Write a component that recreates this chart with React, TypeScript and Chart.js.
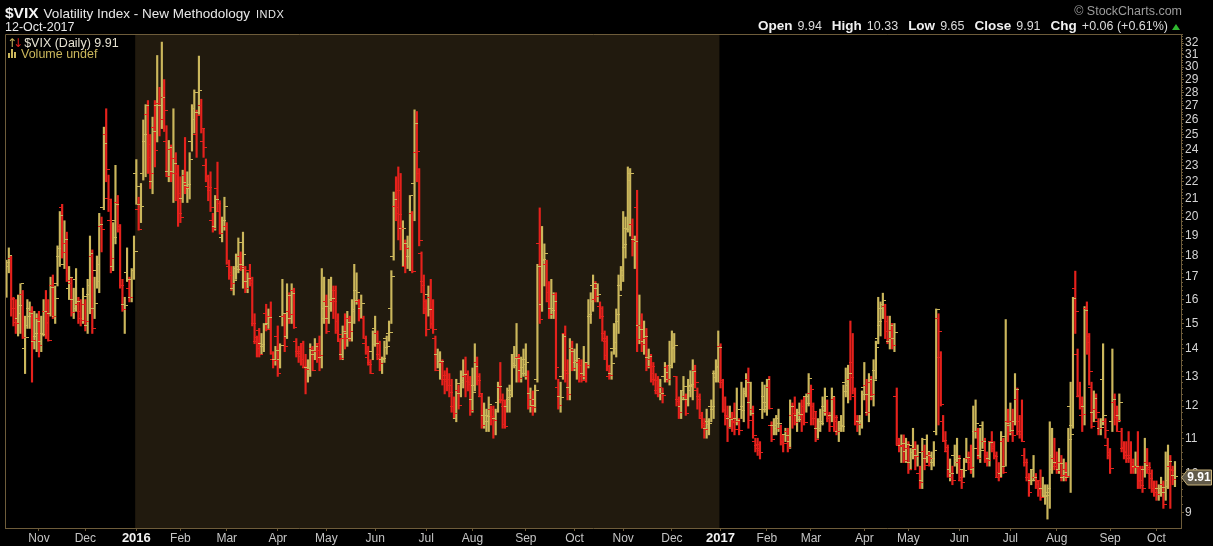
import React, { useEffect, useRef } from 'react';
import { Chart, registerables } from 'chart.js';

Chart.register(...registerables);

type OHLC = [number, number, number, number]; // open, high, low, close

// Oct 13 – Dec 31, 2015
const ohlc2015: OHLC[] = [
  [16.6,17.8,16.1,17.67],[17.5,18.4,17.2,18.03],[17.9,18.0,15.3,16.05],[16.0,16.1,14.9,15.05],[15.6,16.0,14.6,14.98],
  [15.2,16.2,14.5,15.75],[15.4,16.7,14.6,16.70],[16.2,16.4,14.4,14.45],[14.0,15.3,13.1,14.46],[14.9,16.0,14.8,15.29],
  [15.6,15.9,14.8,15.43],[15.5,15.7,12.8,14.33],[14.3,15.5,14.0,14.61],[14.5,15.4,13.9,15.07],
  [15.2,15.5,13.7,14.15],[14.3,15.3,13.9,14.54],[14.6,16.0,14.5,15.51],[15.5,16.4,14.4,15.05],[15.0,16.0,14.3,14.33],
  [15.4,17.0,15.3,16.52],[16.6,17.1,15.2,15.29],[15.3,16.6,15.0,16.06],[16.7,18.5,16.6,18.37],[18.0,20.3,17.5,20.08],
  [20.5,20.7,17.9,18.16],[17.6,19.8,17.4,18.84],[18.6,19.2,16.8,16.85],[16.5,17.5,16.0,16.99],[16.7,17.0,15.3,15.47],
  [16.0,16.5,15.2,15.62],[16.9,17.4,15.5,15.93],[15.8,16.1,15.0,15.19],[15.5,16.0,14.9,15.12],[15.2,16.5,15.0,16.13],
  [15.8,16.0,14.7,15.07],[14.9,16.9,14.6,16.63],[16.2,19.0,15.4,18.11],[18.0,18.3,14.6,14.81],[15.6,17.0,15.2,15.84],
  [17.3,18.0,16.5,17.60],[16.8,20.2,16.3,19.61],[19.5,20.0,18.2,19.34],[20.5,25.5,20.4,24.39],[25.0,26.8,22.0,22.73],
  [21.0,22.4,20.3,20.95],[19.8,21.0,17.2,17.86],[17.5,19.7,17.3,18.94],[19.8,23.0,18.6,20.70],[20.8,21.2,19.2,19.34],
  [19.5,19.6,16.5,16.60],[16.6,16.9,15.5,15.57],[15.8,16.1,14.6,15.74],[17.2,18.4,16.8,16.91],[16.5,17.0,15.9,16.08],
  [16.1,17.4,15.9,17.29],[17.3,19.0,16.9,18.21],
];

// Jan – Dec 2016
const ohlc2016: OHLC[] = [
  // Jan
  [22.5,23.36,20.7,20.70],[20.4,21.1,19.3,19.34],[21.7,21.9,19.7,20.59],[22.5,26.0,22.1,24.99],[24.5,27.1,22.3,27.01],
  [26.4,27.4,22.5,24.30],[23.5,25.0,21.6,22.47],[22.0,26.2,21.3,25.22],[25.5,27.4,22.9,23.95],[27.0,30.95,24.5,27.02],
  [27.2,28.4,24.9,26.05],[27.0,32.09,25.4,27.59],[27.6,29.0,25.2,26.69],[24.5,25.6,22.3,22.34],[22.6,24.6,22.0,24.15],
  [24.0,24.3,22.0,22.50],[22.6,26.8,20.8,23.11],[23.4,23.8,20.9,22.42],[22.5,23.0,19.5,20.20],
  // Feb
  [21.3,22.3,19.7,19.98],[21.0,22.7,20.8,21.98],[22.4,24.8,21.3,21.65],[21.8,22.6,20.8,21.84],[21.6,23.8,21.0,23.38],
  [24.5,27.1,23.9,26.00],[26.8,28.2,25.1,26.54],[25.0,26.7,23.5,26.29],[28.0,30.90,26.4,28.14],[27.0,27.5,25.1,25.40],
  [24.5,25.4,23.5,24.11],[23.0,23.4,22.0,22.31],[21.7,22.4,20.9,21.64],[21.5,22.6,20.3,20.53],[19.8,20.2,19.2,19.38],
  [19.5,21.2,19.3,20.98],[21.6,23.2,20.3,20.72],[20.3,20.9,19.1,19.11],[18.9,20.0,18.7,19.81],[19.8,21.1,19.3,20.55],
  // Mar
  [19.5,19.7,17.6,17.70],[17.5,17.8,16.9,17.09],[17.2,17.5,16.4,16.70],[16.5,17.5,16.2,16.86],[17.4,18.1,16.9,17.35],
  [17.5,18.9,17.2,18.67],[18.0,18.2,17.3,17.50],[17.6,19.2,16.5,18.05],[17.4,17.5,16.3,16.50],[16.8,17.2,16.3,16.92],
  [17.3,17.6,16.6,16.84],[16.7,17.0,14.9,14.99],[15.0,15.4,14.2,14.44],[14.3,14.5,13.7,14.02],[14.7,14.8,13.7,13.79],
  [14.2,14.6,13.8,14.17],[14.1,15.0,13.9,14.94],[15.4,15.8,14.7,14.74],[15.0,15.6,14.8,15.24],[15.3,15.9,13.8,13.82],
  [13.6,13.9,13.3,13.56],[13.6,14.1,13.4,13.95],
  // Apr
  [14.5,14.9,13.0,13.10],[13.6,14.2,13.3,14.12],[15.3,16.9,14.9,15.42],[15.3,15.4,13.9,14.09],[14.5,16.7,14.4,16.16],
  [15.5,16.3,15.0,15.36],[15.2,16.7,15.0,16.26],[16.4,16.5,14.8,14.85],[14.3,14.4,13.7,13.84],[13.9,14.1,13.5,13.72],
  [13.9,14.2,13.4,13.62],[14.2,14.3,13.3,13.35],[13.3,13.8,12.4,13.24],[13.3,13.6,12.8,13.28],[13.1,14.2,13.0,13.95],
  [14.0,14.1,13.2,13.22],[13.8,14.4,13.6,14.08],[13.9,14.2,13.5,13.96],[14.2,14.5,13.2,13.77],[13.7,17.4,13.3,15.22],
  [15.6,17.0,15.0,15.70],
  // May
  [15.9,16.2,14.6,14.68],[15.2,16.9,15.0,15.60],[16.0,17.0,15.5,16.05],[15.9,16.6,15.2,15.91],[16.4,16.6,14.6,14.72],
  [15.1,15.4,14.3,14.57],[14.3,14.4,13.6,13.63],[13.8,14.9,13.6,14.69],[14.4,15.4,14.0,14.41],[14.6,15.5,14.1,15.04],
  [15.2,15.3,14.3,14.68],[14.4,16.0,14.3,15.57],[15.5,17.6,15.0,15.95],[16.4,17.2,15.8,16.33],[15.9,16.0,15.1,15.20],
  [15.6,16.2,15.2,15.82],[15.2,15.3,14.4,14.42],[14.2,14.5,13.8,13.90],[13.7,14.1,13.4,13.43],[13.5,13.6,13.1,13.12],
  [13.9,14.7,13.6,14.19],
  // Jun
  [14.8,15.3,14.1,14.20],[14.6,14.7,13.6,13.63],[13.8,14.3,13.2,13.47],[13.6,13.7,13.1,13.65],[13.6,14.3,13.5,14.05],
  [14.4,14.5,13.8,14.08],[14.6,15.1,14.3,14.64],[15.6,17.3,15.0,17.03],[18.0,21.4,17.8,20.97],[20.6,22.3,19.8,20.50],
  [20.2,22.9,18.8,20.14],[21.5,22.5,18.3,19.37],[19.4,19.8,17.5,19.41],[17.5,18.8,17.2,18.37],[18.6,19.0,17.4,18.48],
  [18.0,21.2,17.3,21.17],[20.2,20.3,17.2,17.25],[21.9,26.72,19.8,25.76],[23.8,26.6,22.0,23.85],[22.5,22.8,18.5,18.75],
  [18.1,18.2,16.3,16.64],[16.8,17.1,15.4,15.63],
  // Jul
  [15.9,16.0,14.5,14.77],[16.2,16.6,15.3,15.58],[16.1,16.9,14.8,14.96],[15.0,16.0,14.6,14.76],[14.4,14.5,13.2,13.20],
  [13.8,14.0,13.3,13.54],[13.2,13.9,12.9,13.55],[13.5,13.6,12.7,13.04],[12.9,13.2,12.4,12.82],[12.9,13.3,12.5,12.67],
  [12.9,13.1,12.3,12.44],[12.7,12.9,11.8,11.97],[12.0,12.3,11.6,11.77],[11.6,12.9,11.5,12.74],[12.5,12.7,11.9,12.02],
  [12.4,13.2,12.3,12.87],[12.8,13.6,12.6,13.05],[13.0,13.7,12.3,12.83],[13.1,13.2,12.5,12.72],[12.8,13.0,11.7,11.87],
  // Aug
  [12.2,13.3,11.8,12.44],[12.7,14.2,12.5,13.37],[13.5,13.7,12.7,12.86],[13.0,13.1,12.3,12.42],[12.3,12.4,11.3,11.39],
  [11.7,12.1,11.3,11.50],[11.7,11.9,11.2,11.66],[11.7,12.3,11.2,12.05],[11.9,12.0,11.4,11.68],[11.9,12.0,11.0,11.55],
  [11.6,11.9,11.1,11.81],[12.1,12.8,11.8,12.64],[12.6,13.5,12.1,12.19],[12.2,12.4,11.3,11.43],[12.0,12.2,11.3,11.34],
  [12.0,12.6,11.8,12.27],[12.2,12.7,11.8,12.38],[12.5,13.8,12.3,13.45],[13.8,14.1,13.3,13.63],[13.4,15.0,12.8,13.65],
  [13.7,13.8,12.8,12.94],[13.2,13.7,12.8,13.12],[13.3,14.0,13.0,13.42],
  // Sep
  [13.6,14.2,12.9,13.48],[13.0,13.2,11.9,11.98],[12.4,12.6,11.8,12.02],[12.2,12.5,11.7,11.94],[12.2,12.7,11.8,12.51],
  [12.9,17.6,12.8,17.50],[18.6,20.5,15.0,15.16],[15.8,19.5,15.5,17.85],[17.8,18.6,16.6,18.14],[17.6,17.8,15.9,16.30],
  [15.9,16.8,15.2,15.37],[15.6,16.9,15.2,15.53],[15.6,16.3,15.2,15.92],[16.2,16.3,12.9,13.30],[12.6,12.9,11.9,12.02],
  [12.3,12.8,11.8,12.29],[13.0,14.6,12.9,14.50],[14.6,14.9,12.8,13.10],[13.2,13.6,12.2,12.39],[12.6,14.4,12.2,14.02],
  [14.0,14.3,13.2,13.29],
  // Oct
  [13.9,14.0,13.2,13.57],[13.5,14.2,12.9,13.63],[13.5,13.6,12.8,12.99],[13.4,13.6,12.8,12.84],[13.1,14.1,12.9,13.48],
  [13.0,13.5,12.8,13.38],[13.5,16.0,13.3,15.36],[15.3,16.3,15.0,15.91],[16.6,17.1,15.5,16.69],[16.0,16.8,15.9,16.12],
  [16.5,16.7,15.9,16.21],[15.7,15.9,15.2,15.28],[15.6,15.7,14.3,14.41],[14.6,14.7,13.6,13.75],[14.3,14.5,13.2,13.34],
  [13.0,13.4,12.9,13.02],[13.1,13.9,12.9,13.46],[14.0,15.0,13.8,14.24],[14.0,15.6,13.7,15.36],[15.1,17.1,14.6,16.19],
  [16.6,17.5,16.4,17.06],
  // Nov
  [17.3,20.3,16.8,18.56],[18.4,20.0,17.9,19.32],[19.4,22.9,19.2,22.08],[22.5,22.8,19.0,22.51],[19.6,19.9,18.0,18.71],
  [18.8,19.0,17.4,18.74],[20.5,21.5,13.9,14.38],[14.9,16.2,14.2,14.74],[14.9,15.4,13.9,14.17],[14.3,15.1,13.8,14.48],
  [14.4,14.8,13.2,13.37],[13.7,14.0,13.3,13.72],[13.6,13.8,12.8,13.35],[13.1,13.5,12.7,12.85],[12.9,13.1,12.4,12.42],
  [12.5,13.0,12.3,12.41],[12.4,12.9,12.2,12.43],[12.6,12.6,12.1,12.34],[13.0,13.5,12.8,13.15],[13.3,13.4,12.8,12.90],
  [12.9,14.3,12.7,13.33],
  // Dec
  [13.4,14.7,13.3,14.07],[14.0,14.6,13.5,14.12],[13.0,13.0,12.0,12.14],[12.2,12.3,11.6,11.79],[12.0,12.5,11.6,12.22],
  [12.5,13.0,12.2,12.64],[12.3,12.4,11.7,11.75],[12.2,12.9,12.0,12.64],[12.5,13.2,12.3,12.72],[12.7,13.6,12.2,13.19],
  [13.2,13.4,12.6,12.79],[12.5,12.6,11.9,12.20],[12.3,12.4,11.6,11.71],[11.6,11.8,11.3,11.45],[11.4,11.6,11.0,11.27],
  [11.3,11.9,11.0,11.43],[11.5,11.6,11.1,11.44],[12.0,12.2,11.5,11.99],[11.9,13.2,11.6,12.95],[13.1,13.6,12.8,13.37],
  [13.3,14.7,12.8,14.04],
];

// Jan 3 – Oct 12, 2017
const ohlc2017: OHLC[] = [
  // Jan
  [14.1,14.2,12.6,12.85],[12.8,12.9,11.8,11.85],[11.9,12.3,11.4,11.67],[11.7,12.0,10.9,11.32],[11.6,12.0,11.3,11.56],
  [11.6,11.8,11.2,11.49],[11.5,12.1,11.1,11.26],[11.6,12.6,11.4,11.54],[11.5,11.6,11.1,11.23],[11.9,12.8,11.6,11.87],
  [12.0,12.6,11.5,12.48],[12.4,13.1,12.3,12.78],[12.9,13.3,11.3,11.54],[12.1,12.8,11.7,11.77],[11.9,12.0,11.0,11.07],
  [10.9,11.0,10.6,10.81],[10.8,11.0,10.5,10.63],[10.7,10.9,10.4,10.58],[11.9,12.8,11.6,11.88],[12.3,12.7,11.8,11.99],
  // Feb
  [12.1,12.9,11.7,12.88],[12.6,13.0,11.9,11.93],[11.4,11.5,10.9,10.97],[11.4,11.6,11.1,11.37],[11.3,11.7,11.1,11.45],
  [11.6,11.9,11.2,11.45],[11.3,11.4,10.8,10.88],[10.9,11.1,10.6,10.85],[11.1,11.3,10.9,11.07],[11.2,11.3,10.6,10.74],
  [10.9,12.2,10.7,11.97],[11.7,12.1,11.3,11.76],[12.0,12.3,11.4,11.49],[11.7,11.9,11.2,11.57],[11.8,12.1,11.5,11.74],
  [11.7,12.2,11.2,11.71],[12.0,12.3,11.4,11.47],[12.3,12.4,11.8,12.09],[12.3,13.1,12.0,12.92],
  // Mar
  [12.4,12.7,11.4,12.54],[12.0,12.1,11.4,11.81],[11.6,11.8,10.9,10.96],[11.3,11.6,11.0,11.24],[11.3,11.9,11.2,11.45],
  [11.5,12.3,11.4,11.86],[12.0,12.6,11.7,12.30],[11.8,12.2,11.5,11.66],[11.6,11.8,11.2,11.35],[11.7,12.6,11.5,12.30],
  [12.2,12.3,11.2,11.63],[11.5,11.7,11.1,11.21],[11.2,11.5,10.9,11.28],[11.5,11.7,11.2,11.34],[11.4,12.7,11.2,12.47],
  [12.8,13.3,12.3,12.81],[12.7,13.4,12.1,13.12],[12.9,15.1,12.2,12.96],[13.5,14.6,12.4,12.50],[12.3,12.6,11.4,11.53],
  [11.5,11.7,11.2,11.42],[11.5,11.7,11.1,11.54],[11.5,12.5,11.3,12.37],
  // Apr
  [12.6,13.5,12.2,12.38],[12.7,12.9,11.7,11.79],[11.8,13.1,11.5,12.89],[12.8,13.0,12.2,12.39],[12.3,13.6,12.0,12.87],
  [13.2,14.3,12.9,14.05],[14.4,16.1,14.2,15.07],[14.9,15.9,14.5,15.77],[15.6,16.28,15.2,15.96],[15.7,15.8,14.4,14.66],
  [15.1,15.3,14.2,14.42],[14.3,15.3,14.0,14.93],[14.7,15.0,14.0,14.15],[14.4,15.0,13.9,14.63],[12.3,12.6,10.8,10.84],
  [10.8,11.0,10.6,10.76],[10.8,11.1,10.3,10.85],[10.8,11.1,10.3,10.36],[10.6,11.0,10.3,10.82],
  // May
  [10.7,10.9,10.0,10.11],[10.3,10.7,10.1,10.59],[10.8,11.3,10.4,10.68],[10.7,10.9,10.1,10.46],[10.5,10.8,10.2,10.57],
  [10.0,10.2,9.6,9.77],[9.8,11.0,9.6,10.96],[10.6,10.8,10.1,10.21],[10.4,11.1,10.3,10.60],[10.5,10.6,10.2,10.40],
  [10.5,10.6,10.1,10.42],[10.3,10.9,10.2,10.65],[11.2,15.6,11.1,15.59],[15.2,15.4,11.4,14.66],[13.7,13.9,12.0,12.04],
  [11.5,11.7,10.9,10.93],[10.9,11.2,10.6,10.72],[10.6,10.8,9.9,9.99],[10.1,10.4,9.8,9.99],[9.9,10.2,9.7,9.81],
  [10.5,10.8,10.2,10.38],[10.3,11.0,10.0,10.41],
  // Jun
  [10.3,10.5,9.8,9.89],[9.8,10.1,9.6,9.75],[10.1,10.4,9.9,10.07],[10.4,11.0,10.3,10.45],[10.4,10.6,10.1,10.39],
  [10.3,10.8,10.0,10.16],[10.1,12.0,9.9,10.70],[11.2,12.2,11.0,11.46],[11.2,11.3,10.4,10.42],[10.5,11.3,10.3,10.64],
  [11.4,11.5,10.7,10.90],[10.9,11.0,10.3,10.38],[10.5,10.6,10.2,10.37],[10.4,10.9,10.2,10.86],[10.9,11.2,10.6,10.75],
  [10.7,10.9,10.4,10.48],[10.5,10.6,9.9,10.02],[9.9,10.3,9.8,9.90],[10.0,11.2,9.9,11.06],[10.9,11.0,10.0,10.03],
  [10.2,15.16,10.2,11.44],[11.5,11.9,10.9,11.18],
  // Jul
  [11.4,12.1,11.1,11.22],[11.5,11.9,10.9,11.07],[11.5,13.1,11.4,12.54],[12.2,12.6,11.1,11.19],[11.5,11.7,11.0,11.11],
  [11.2,12.2,10.9,10.89],[10.5,10.7,10.2,10.30],[10.3,10.4,9.8,9.90],[9.9,10.0,9.4,9.51],[9.8,10.1,9.7,9.82],
  [10.1,10.5,9.8,9.89],[9.9,10.0,9.6,9.79],[9.7,9.8,9.4,9.58],[9.8,10.1,9.3,9.36],[9.6,9.9,9.4,9.43],
  [9.4,9.7,9.2,9.43],[9.4,9.7,8.84,9.60],[9.5,11.5,9.1,10.11],[10.5,11.3,10.0,10.29],[10.4,11.0,10.1,10.26],
  // Aug
  [10.2,10.6,10.0,10.09],[10.1,10.7,10.0,10.28],[10.3,10.5,9.8,9.95],[9.9,10.4,9.8,10.03],[10.1,10.3,9.8,9.93],
  [9.9,11.3,9.9,10.96],[12.0,12.8,9.5,11.11],[11.4,16.1,11.3,16.04],[16.5,17.28,14.6,15.51],[13.8,14.0,12.3,12.33],
  [12.3,12.8,11.9,12.04],[11.7,12.3,11.2,11.74],[12.0,15.7,11.4,15.55],[15.6,15.9,13.8,14.26],[14.5,14.6,12.7,13.19],
  [12.6,12.8,11.3,11.35],[11.8,12.5,11.5,12.25],[11.9,12.4,11.6,11.78],[11.5,11.6,11.1,11.28],[11.3,11.6,11.1,11.32],
  [12.9,14.2,11.4,11.70],[11.5,11.6,11.0,11.22],[10.8,11.0,10.4,10.59],
  // Sep
  [10.5,10.7,10.0,10.13],[11.5,14.0,11.2,12.23],[12.1,12.4,11.4,11.63],[11.7,12.0,11.2,11.55],[11.7,12.4,11.5,12.12],
  [11.2,11.3,10.6,10.73],[10.7,10.9,10.4,10.58],[10.6,10.9,10.3,10.50],[10.5,11.2,10.3,10.44],[10.4,10.9,10.0,10.17],
  [10.3,10.4,10.0,10.15],[10.2,10.6,10.0,10.18],[10.2,11.2,9.6,9.78],[9.8,10.2,9.6,9.67],[9.8,10.2,9.5,9.59],
  [10.1,11.0,9.9,10.21],[10.3,10.7,10.0,10.17],[10.1,10.3,9.6,9.87],[10.0,10.1,9.5,9.55],[9.6,9.8,9.4,9.51],
  // Oct
  [9.6,9.8,9.3,9.45],[9.6,9.7,9.3,9.51],[9.6,9.9,9.4,9.63],[9.7,9.8,9.1,9.19],[9.5,10.6,9.3,9.65],
  [9.8,10.8,9.6,10.33],[10.2,10.5,9.1,10.08],[10.1,10.2,9.7,9.85],[9.94,10.33,9.65,9.91],
];

// trading days per month, Oct 2015 (partial) … Oct 2017 (partial)
const monthTradingDays = [14,20,22,19,20,22,21,21,22,20,23,21,21,21,21,20,19,23,19,22,22,20,23,20,9];
const monthLabels = ['Oct','Nov','Dec','2016','Feb','Mar','Apr','May','Jun','Jul','Aug','Sep','Oct','Nov','Dec','2017','Feb','Mar','Apr','May','Jun','Jul','Aug','Sep','Oct'];
const yTickValues = [9,10,11,12,13,14,15,16,17,18,19,20,21,22,23,24,25,26,27,28,29,30,31,32];

const quoteOpen = '9.94';
const quoteHigh = '10.33';
const quoteLow = '9.65';
const quoteClose = '9.91';
const quoteChg = '+0.06 (+0.61%)';

const FONT = '"Liberation Sans", Arial, Helvetica, sans-serif';
const UP = '#cbb75c';
const DOWN = '#e6211c';
const FRAME = '#6e5c3a';
const SHADE = '#211a0e';

function makeTick(color: string, side: 'left' | 'right') {
  const c = document.createElement('canvas');
  c.width = 7;
  c.height = 1;
  const g = c.getContext('2d')!;
  g.fillStyle = color;
  g.fillRect(side === 'left' ? 0 : 4, 0, 3, 1);
  return c;
}

export default function App() {
  const ref = useRef<HTMLCanvasElement>(null);

  useEffect(() => {
    const bars = [...ohlc2015, ...ohlc2016, ...ohlc2017];
    const n = bars.length;
    const up = bars.map((b, i) => (i === 0 ? b[3] >= b[0] : b[3] >= bars[i - 1][3]));
    const colors = up.map((u) => (u ? UP : DOWN));

    const imgs = {
      ou: makeTick(UP, 'left'),
      od: makeTick(DOWN, 'left'),
      cu: makeTick(UP, 'right'),
      cd: makeTick(DOWN, 'right'),
    };

    const monthStarts: { idx: number; label: string }[] = [];
    let acc = 0;
    monthTradingDays.forEach((d, k) => {
      if (k > 0) monthStarts.push({ idx: acc, label: monthLabels[k] });
      acc += d;
    });
    const shadeFrom = ohlc2015.length - 0.5;
    const shadeTo = ohlc2015.length + ohlc2016.length - 0.5;
    const lastClose = bars[n - 1][3];

    // minor ticks on the price axis (0.2 steps between labelled values)
    const minorTicks: number[] = [];
    yTickValues.forEach((v) => {
      for (let k = 1; k < 5; k++) minorTicks.push(v + k * 0.2);
    });

    const framePlugin = {
      id: 'framePlugin',
      beforeDatasetsDraw(chart: any) {
        const { ctx, chartArea, scales } = chart;
        const x0 = scales.x.getPixelForValue(shadeFrom);
        const x1 = scales.x.getPixelForValue(shadeTo);
        ctx.save();
        ctx.fillStyle = SHADE;
        ctx.fillRect(x0, chartArea.top, x1 - x0, chartArea.bottom - chartArea.top);
        ctx.restore();
      },
      afterDraw(chart: any) {
        const { ctx, chartArea, scales } = chart;
        ctx.save();
        ctx.strokeStyle = FRAME;
        ctx.lineWidth = 1;
        ctx.beginPath();
        ctx.moveTo(chartArea.left + 0.5, chartArea.bottom);
        ctx.lineTo(chartArea.left + 0.5, chartArea.top + 0.5);
        ctx.lineTo(chartArea.right, chartArea.top + 0.5);
        ctx.stroke();
        // minor ticks
        ctx.beginPath();
        minorTicks.forEach((v) => {
          const py = scales.y.getPixelForValue(v);
          if (py < chartArea.top || py > chartArea.bottom) return;
          const yy = Math.round(py) + 0.5;
          ctx.moveTo(chartArea.right, yy);
          ctx.lineTo(chartArea.right + 2, yy);
        });
        ctx.stroke();
        // last price marker
        const y = Math.round(scales.y.getPixelForValue(lastClose));
        const xl = chartArea.right;
        const h = 15;
        ctx.fillStyle = '#615a49';
        ctx.strokeStyle = '#c9b37a';
        ctx.beginPath();
        ctx.moveTo(xl + 0.5, y + 0.5);
        ctx.lineTo(xl + 6.5, y - h / 2 + 0.5);
        ctx.lineTo(1211.5, y - h / 2 + 0.5);
        ctx.lineTo(1211.5, y + h / 2 + 0.5);
        ctx.lineTo(xl + 6.5, y + h / 2 + 0.5);
        ctx.closePath();
        ctx.fill();
        ctx.stroke();
        ctx.fillStyle = '#ffffff';
        ctx.font = `bold 12px ${FONT}`;
        ctx.textAlign = 'center';
        ctx.textBaseline = 'middle';
        ctx.fillText(lastClose.toFixed(2), (xl + 6 + 1211) / 2, y + 1);
        ctx.restore();
      },
    };

    const chart = new Chart(ref.current!, {
      type: 'bar',
      data: {
        datasets: [
          {
            type: 'bar',
            data: bars.map((b, i) => ({ x: i, y: [b[2], b[1]] })) as any,
            backgroundColor: colors,
            borderWidth: 0,
            barThickness: 1.5,
            order: 3,
          } as any,
          {
            type: 'scatter',
            data: bars.map((b, i) => ({ x: i, y: b[0] })),
            pointStyle: ((ctx: any) => (up[ctx.dataIndex] ? imgs.ou : imgs.od)) as any,
            pointRadius: 3,
            order: 2,
          } as any,
          {
            type: 'scatter',
            data: bars.map((b, i) => ({ x: i, y: b[3] })),
            pointStyle: ((ctx: any) => (up[ctx.dataIndex] ? imgs.cu : imgs.cd)) as any,
            pointRadius: 3,
            order: 1,
          } as any,
        ],
      },
      options: {
        animation: false,
        responsive: false,
        devicePixelRatio: 1,
        events: [],
        layout: { padding: { left: 5, top: 34, right: 0, bottom: 0 } },
        plugins: { legend: { display: false }, tooltip: { enabled: false }, title: { display: false } },
        scales: {
          x: {
            type: 'linear',
            min: -0.65,
            max: n - 1 + 2.6,
            offset: false,
            afterBuildTicks: (scale: any) => {
              scale.ticks = monthStarts.map((m) => ({ value: m.idx }));
            },
            afterFit: (scale: any) => {
              scale.height = 18;
            },
            grid: { display: true, drawOnChartArea: false, drawTicks: true, tickLength: 3, color: FRAME, offset: false },
            border: { display: true, color: FRAME },
            ticks: {
              autoSkip: false,
              maxRotation: 0,
              padding: 0,
              color: (ctx: any) => (/^\d{4}$/.test(monthStarts[ctx.index]?.label ?? '') ? '#f2f2f2' : '#c4c4c4'),
              font: (ctx: any) =>
                /^\d{4}$/.test(monthStarts[ctx.index]?.label ?? '')
                  ? { family: FONT, size: 13, weight: 'bold' }
                  : { family: FONT, size: 12 },
              callback: (_v: any, i: number) => monthStarts[i]?.label ?? '',
            },
          },
          y: {
            type: 'logarithmic',
            position: 'right',
            min: 8.63,
            max: 32.8,
            afterBuildTicks: (scale: any) => {
              scale.ticks = yTickValues.map((v) => ({ value: v }));
            },
            afterFit: (scale: any) => {
              scale.width = 32;
            },
            grid: { display: true, drawOnChartArea: false, drawTicks: true, tickLength: 3, color: FRAME },
            border: { display: true, color: FRAME },
            ticks: {
              autoSkip: false,
              padding: 1,
              color: '#d4d4d4',
              font: { family: FONT, size: 12 },
              callback: (v: any) => String(v),
            },
          },
        },
      } as any,
      plugins: [framePlugin],
    });

    return () => chart.destroy();
  }, []);

  const lbl: React.CSSProperties = { fontWeight: 'bold', color: '#f0f0f0', fontSize: 13.5 };
  const val: React.CSSProperties = { color: '#dcdcdc', fontSize: 12.5, marginLeft: 5, marginRight: 10 };

  return (
    <div
      style={{
        position: 'fixed',
        left: 0,
        top: 0,
        width: 1213,
        height: 546,
        background: '#000',
        overflow: 'hidden',
        fontFamily: FONT,
      }}
    >
      <canvas ref={ref} width={1213} height={546} style={{ position: 'absolute', left: 0, top: 0 }} />
      <div style={{ position: 'absolute', left: 5, top: 5, lineHeight: '15px', whiteSpace: 'nowrap', color: '#e8e8e8' }}>
        <span style={{ fontWeight: 'bold', fontSize: 15.5, color: '#f4f4f4' }}>$VIX</span>
        <span style={{ fontSize: 13.5, marginLeft: 5 }}>Volatility Index - New Methodology</span>
        <span style={{ fontSize: 11, marginLeft: 6, letterSpacing: 0.5 }}>INDX</span>
      </div>
      <div style={{ position: 'absolute', left: 5, top: 21, lineHeight: '13px', fontSize: 12.5, color: '#e8e8e8' }}>
        12-Oct-2017
      </div>
      <div style={{ position: 'absolute', right: 31, top: 5, lineHeight: '13px', fontSize: 12.5, color: '#9c9c9c' }}>
        © StockCharts.com
      </div>
      <div
        style={{
          position: 'absolute',
          right: 45,
          top: 19,
          lineHeight: '14px',
          whiteSpace: 'nowrap',
          display: 'flex',
          alignItems: 'baseline',
        }}
      >
        <span style={lbl}>Open</span>
        <span style={val}>{quoteOpen}</span>
        <span style={lbl}>High</span>
        <span style={val}>{quoteHigh}</span>
        <span style={lbl}>Low</span>
        <span style={val}>{quoteLow}</span>
        <span style={lbl}>Close</span>
        <span style={val}>{quoteClose}</span>
        <span style={lbl}>Chg</span>
        <span style={{ ...val, marginRight: 0 }}>{quoteChg}</span>
      </div>
      <div
        style={{
          position: 'absolute',
          left: 1172,
          top: 24,
          width: 0,
          height: 0,
          borderLeft: '4px solid transparent',
          borderRight: '4px solid transparent',
          borderBottom: '6px solid #2fb82f',
        }}
      />
      <div style={{ position: 'absolute', left: 7, top: 37, lineHeight: '12px', whiteSpace: 'nowrap', fontSize: 12.5 }}>
        <span style={{ color: UP, fontSize: 12, fontFamily: '"DejaVu Sans", sans-serif', letterSpacing: -4 }}>↑</span>
        <span style={{ color: DOWN, fontSize: 12, fontFamily: '"DejaVu Sans", sans-serif' }}>↓</span>
        <span style={{ color: '#e6e2d2', marginLeft: 1 }}>$VIX (Daily) 9.91</span>
      </div>
      <div style={{ position: 'absolute', left: 8, top: 48, lineHeight: '12px', whiteSpace: 'nowrap', fontSize: 12.5, color: UP }}>
        <span style={{ display: 'inline-block', width: 10, height: 9, marginRight: 3, position: 'relative', top: 0 }}>
          <span style={{ position: 'absolute', left: 0, bottom: 0, width: 2, height: 5, background: UP }} />
          <span style={{ position: 'absolute', left: 3, bottom: 0, width: 2, height: 9, background: UP }} />
          <span style={{ position: 'absolute', left: 6, bottom: 0, width: 2, height: 6, background: UP }} />
        </span>
        Volume undef
      </div>
    </div>
  );
}
